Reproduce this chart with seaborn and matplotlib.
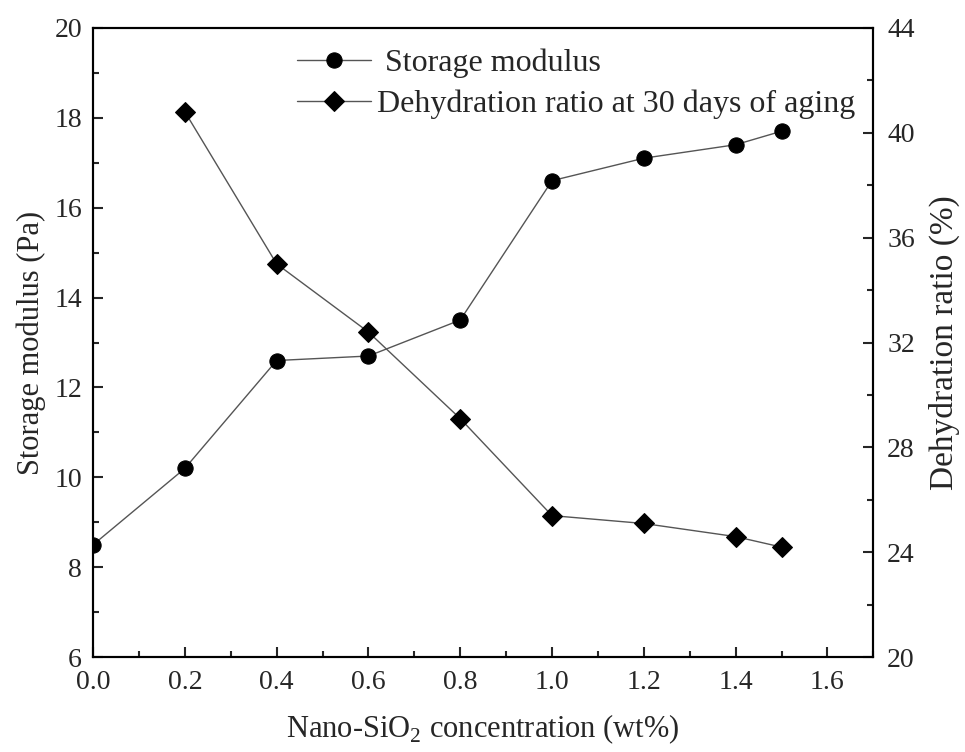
import pandas as pd
import seaborn as sns
import matplotlib.pyplot as plt
from matplotlib.ticker import MultipleLocator

# Data
conc_modulus = [0.0, 0.2, 0.4, 0.6, 0.8, 1.0, 1.2, 1.4, 1.5]
storage_modulus = [8.5, 10.2, 12.6, 12.7, 13.5, 16.6, 17.1, 17.4, 17.7]
conc_dehyd = [0.2, 0.4, 0.6, 0.8, 1.0, 1.2, 1.4, 1.5]
dehydration_ratio = [40.8, 35.0, 32.4, 29.1, 25.4, 25.1, 24.6, 24.2]

df1 = pd.DataFrame({'conc': conc_modulus, 'val': storage_modulus})
df2 = pd.DataFrame({'conc': conc_dehyd, 'val': dehydration_ratio})

sns.set_style('ticks')
plt.rcParams['font.family'] = ['Liberation Serif', 'DejaVu Serif']
plt.rcParams['mathtext.fontset'] = 'custom'
plt.rcParams['mathtext.rm'] = 'Liberation Serif'

fig = plt.figure(figsize=(9.65, 7.52), dpi=100)
ax = fig.add_axes([0.0964, 0.126, 0.8086, 0.837])
ax2 = ax.twinx()

sns.lineplot(data=df1, x='conc', y='val', ax=ax, color='#555555', lw=1,
             marker='o', markersize=11, markerfacecolor='black',
             markeredgecolor='black', label=' Storage modulus', legend=False)
sns.lineplot(data=df2, x='conc', y='val', ax=ax2, color='#555555', lw=1,
             marker='D', markersize=10, markerfacecolor='black',
             markeredgecolor='black', label='Dehydration ratio at 30 days of aging',
             legend=False)

ax.set_xlim(0, 1.7)
ax.set_ylim(6, 20)
ax2.set_ylim(20, 44)
ax.xaxis.set_minor_locator(MultipleLocator(0.1))
ax.yaxis.set_major_locator(MultipleLocator(2))
ax.yaxis.set_minor_locator(MultipleLocator(1))
ax2.yaxis.set_major_locator(MultipleLocator(4))
ax2.yaxis.set_minor_locator(MultipleLocator(2))
ax.set_xticks([0.0, 0.2, 0.4, 0.6, 0.8, 1.0, 1.2, 1.4, 1.6])
ax.set_xticklabels(['0.0', '0.2', '0.4', '0.6', '0.8', '1.0', '1.2', '1.4', '1.6'])

for a in (ax, ax2):
    a.tick_params(which='major', direction='in', length=7, width=1.5, labelsize=20)
    a.tick_params(which='minor', direction='in', length=4, width=1.5)
    for s in a.spines.values():
        s.set_linewidth(1.5)
        s.set_color('black')
ax.tick_params(axis='x', pad=9)
ax.tick_params(axis='y', pad=8)
ax2.tick_params(axis='y', pad=10)

ax.set_xlabel(r'Nano-SiO$_2$ concentration (wt%)', fontsize=22, labelpad=13)
ax.set_ylabel('Storage modulus (Pa)', fontsize=22, labelpad=6)
ax2.set_ylabel('Dehydration ratio (%)', fontsize=24, labelpad=10)

h1, l1 = ax.get_legend_handles_labels()
h2, l2 = ax2.get_legend_handles_labels()
ax2.legend(h1 + h2, l1 + l2, loc='upper left', bbox_to_anchor=(0.235, 1.0),
           frameon=False, fontsize=23, handlelength=2.3, handletextpad=0.2,
           labelspacing=0.35, borderaxespad=0.25)

fig.savefig('out.png', dpi=100)
